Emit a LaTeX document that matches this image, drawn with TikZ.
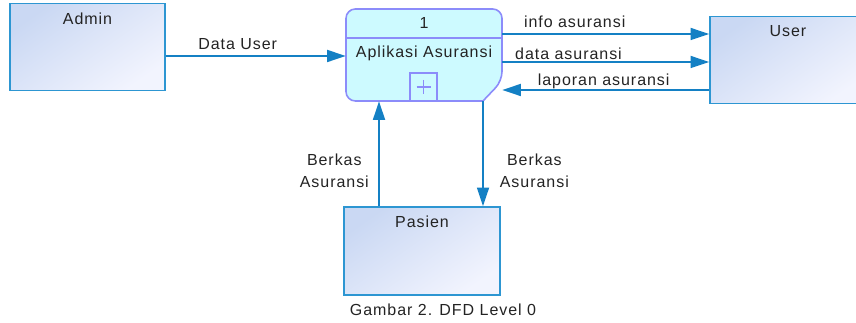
\documentclass[tikz,border=0pt]{standalone}
\usepackage{fontspec}
\setmainfont[LetterSpace=6]{Liberation Sans}
\usepackage{tikz}
\usetikzlibrary{arrows.meta,positioning,calc}
\definecolor{flowblue}{RGB}{20,128,196}
\definecolor{entline}{RGB}{45,150,210}
\definecolor{enttop}{RGB}{202,216,243}
\definecolor{entbot}{RGB}{242,244,254}
\definecolor{procline}{RGB}{140,140,250}
\definecolor{procfill}{RGB}{205,250,255}
\definecolor{txtgray}{RGB}{35,35,35}

\begin{document}
\begin{tikzpicture}[x=0.75pt, y=-0.75pt, font=\fontsize{12}{16.5}\selectfont, text=txtgray,
        entity/.style={draw=entline, line width=1.2pt, top color=enttop, bottom color=entbot,
            shading angle=35, minimum width=117pt, minimum height=65pt, inner sep=0pt},
        flow/.style={draw=flowblue, line width=1.3pt, -{Triangle[length=14pt,width=9pt]}},
        lbl/.style={inner sep=2pt, align=center},
        hlbl/.style={inner sep=0pt, anchor=base}]

    \useasboundingbox (0,0) rectangle (856,323);

    % external entities
    \node[entity, minimum width=116pt, label={[anchor=north, yshift=-4pt]north:Admin}] (admin) at (87.5,47) {};
    \node[entity, label={[anchor=north, yshift=-4pt]north:User}] (user) at (788,60) {};
    \node[entity, minimum height=66pt, label={[anchor=north, yshift=-4pt]north:Pasien}] (pasien) at (422,251) {};

    % process 1
    \filldraw[draw=procline, fill=procfill, line width=1.2pt, rounded corners=7pt]
        (483,101) -- (346,101) -- (346,9) -- (502,9) -- (502,81) [sharp corners] -- cycle;
    \draw[procline, line width=1.2pt] (346,38) -- (502,38);
    \node[minimum width=117pt, minimum height=69pt, inner sep=0pt] (procbox) at (424,55) {};
    \node (procnum) at (424,23) {1};
    \node (procname) at (424,53) {Aplikasi Asuransi};
    \node[draw=procline, line width=1.2pt, minimum width=20pt, minimum height=21pt, inner sep=0pt] (plus) at (423.5,87) {};
    \draw[procline, line width=0.9pt] ($(plus.center)+(-7,0)$) -- ($(plus.center)+(7,0)$);
    \draw[procline, line width=0.9pt] ($(plus.center)+(0,-7)$) -- ($(plus.center)+(0,7)$);

    % data flows
    \draw[flow] ($(admin.east)+(0,9)$) -- node[hlbl, yshift=4.5pt, pos=.4] (lbldatauser) {Data User} ($(procbox.west)+(0,1)$);
    \draw[flow] ($(procbox.east)+(0,-21)$) -- node[hlbl, yshift=5pt, pos=.35] (lblinfo) {info asuransi} ($(user.west)+(0,-26)$);
    \draw[flow] ($(procbox.east)+(0,7)$) -- node[hlbl, yshift=1.8pt, pos=.32] (lbldata) {data asuransi} ($(user.west)+(0,2)$);
    \draw[flow] ($(user.west)+(0,30)$) -- node[hlbl, yshift=3pt, pos=.51] (lbllaporan) {laporan asuransi} ($(procbox.east)+(0,35)$);
    \draw[flow] ($(pasien.north)+(-43,0)$) -- node[lbl, left=5pt, pos=.34] (lblberkasin) {Berkas\\Asuransi} ($(procbox.south)+(-45,0)$);
    \draw[flow] ($(procbox.south)+(59,0)$) -- node[lbl, right=10pt, pos=.66] (lblberkasout) {Berkas\\Asuransi} ($(pasien.north)+(61,0)$);

    \node (caption) at (443,310) {Gambar 2. DFD Level 0};
\end{tikzpicture}
\end{document}
